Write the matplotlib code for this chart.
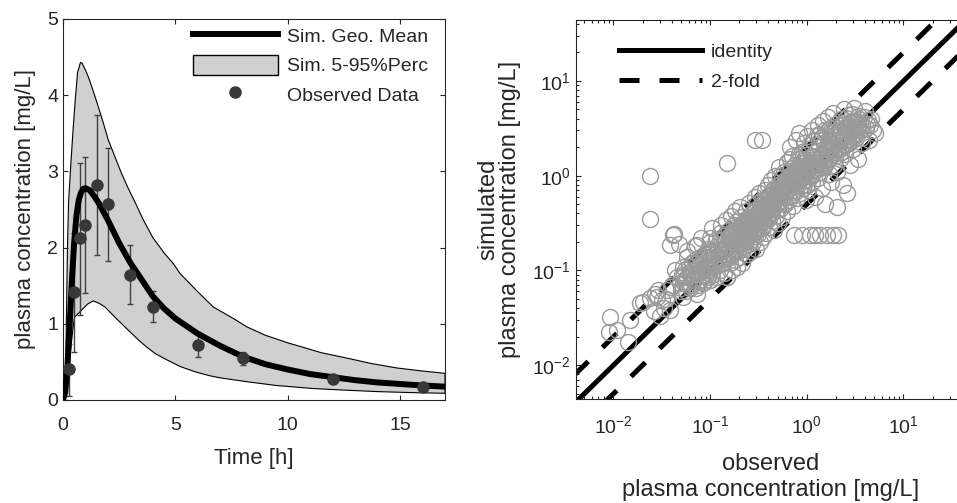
import numpy as np
import matplotlib
matplotlib.use('Agg')
import matplotlib.pyplot as plt
from matplotlib.patches import Patch
from matplotlib.lines import Line2D

# ---- left panel data: concentration-time profile ----
t_mean = [0, 0.1, 0.2, 0.3, 0.4, 0.5, 0.6, 0.7, 0.8, 0.9, 1.0, 1.2, 1.4, 1.6, 1.8,
          2.0, 2.25, 2.5, 2.75, 3.0, 3.5, 4.0, 4.5, 5.0, 5.5, 6.0, 7.0, 8.0, 9.0,
          10.0, 11.0, 12.0, 13.0, 14.0, 15.0, 16.0, 17.0]
c_mean = [0, 0.1, 0.45, 1.0, 1.58, 2.07, 2.42, 2.62, 2.72, 2.77, 2.78, 2.75, 2.67,
          2.58, 2.47, 2.36, 2.21, 2.06, 1.93, 1.8, 1.58, 1.36, 1.2, 1.07, 0.97,
          0.87, 0.71, 0.57, 0.47, 0.4, 0.34, 0.3, 0.26, 0.23, 0.21, 0.19, 0.175]

t_p95 = [0.1, 0.15, 0.2, 0.25, 0.35, 0.45, 0.55, 0.65, 0.78, 0.85, 1.0, 1.13, 1.35,
         1.57, 1.8, 2.02, 2.3, 2.61, 2.9, 3.2, 3.58, 4.0, 4.5, 4.91, 5.21, 6.0,
         6.69, 7.58, 8.18, 9.0, 10.0, 10.7, 11.5, 12.63, 13.7, 14.86, 16.0, 17.0]
c_p95 = [0.0, 1.0, 2.0, 2.6, 3.1, 3.55, 3.95, 4.3, 4.43, 4.42, 4.33, 4.24, 4.05,
         3.85, 3.63, 3.41, 3.2, 2.97, 2.78, 2.6, 2.36, 2.13, 1.93, 1.79, 1.66,
         1.42, 1.22, 1.07, 0.96, 0.85, 0.75, 0.69, 0.62, 0.55, 0.48, 0.42, 0.38, 0.35]

t_p05 = [0.08, 0.2, 0.31, 0.45, 0.52, 0.7, 0.9, 1.1, 1.35, 1.6, 1.87, 2.2, 2.61,
         3.0, 3.35, 3.7, 4.1, 4.6, 5.21, 5.88, 6.5, 7.0, 8.18, 9.5, 11.15, 12.5,
         14.0, 15.5, 17.0]
c_p05 = [0.0, 0.25, 0.57, 0.95, 1.09, 1.14, 1.2, 1.26, 1.3, 1.27, 1.22, 1.12, 1.0,
         0.89, 0.79, 0.7, 0.61, 0.53, 0.44, 0.37, 0.32, 0.29, 0.24, 0.19, 0.15,
         0.13, 0.11, 0.097, 0.088]

t_obs = [0.25, 0.5, 0.75, 1.0, 1.5, 2.0, 3.0, 4.0, 6.0, 8.0, 12.0, 16.0]
c_obs = [0.41, 1.42, 2.12, 2.30, 2.82, 2.57, 1.64, 1.22, 0.72, 0.55, 0.28, 0.175]
c_obs_lo = [0.05, 0.63, 1.12, 1.41, 1.90, 1.83, 1.26, 1.02, 0.57, 0.46, 0.26, 0.165]
c_obs_hi = [0.74, 2.19, 3.11, 3.19, 3.74, 3.31, 2.03, 1.43, 0.89, 0.63, 0.30, 0.185]

# ---- right panel data: observed vs simulated ----
obs = [0.0089, 0.0093, 0.0108, 0.0143, 0.0149, 0.019, 0.0204, 0.024, 0.026, 0.027,
       0.028, 0.029, 0.03, 0.032, 0.033, 0.035, 0.036, 0.038, 0.039, 0.049,
       0.053, 0.062, 0.073, 0.085, 0.1, 0.15,
       0.04, 0.042, 0.045, 0.048, 0.05, 0.052, 0.055, 0.058, 0.06, 0.062,
       0.065, 0.068, 0.07, 0.072, 0.075, 0.078, 0.08, 0.082, 0.085, 0.088,
       0.09, 0.092, 0.095, 0.098, 0.1, 0.043, 0.053, 0.057, 0.063, 0.067,
       0.073, 0.077, 0.083, 0.087, 0.093, 0.097,
       0.10, 0.10, 0.105, 0.105, 0.11, 0.11, 0.115, 0.115, 0.12, 0.12,
       0.125, 0.125, 0.13, 0.13, 0.135, 0.135, 0.14, 0.14, 0.145, 0.145,
       0.15, 0.15, 0.155, 0.155, 0.16, 0.16, 0.165, 0.165, 0.17, 0.17,
       0.175, 0.175, 0.18, 0.18, 0.185, 0.185, 0.19, 0.19, 0.195, 0.195,
       0.2, 0.2, 0.205, 0.21, 0.21, 0.215, 0.22, 0.22, 0.225, 0.23,
       0.235, 0.24, 0.24, 0.245, 0.25, 0.25, 0.255, 0.26, 0.265, 0.27,
       0.275, 0.28, 0.285, 0.29, 0.29, 0.295, 0.3, 0.3, 0.3, 0.305,
       0.31, 0.32, 0.32, 0.33, 0.33, 0.34, 0.34, 0.35, 0.35, 0.36,
       0.36, 0.37, 0.37, 0.38, 0.38, 0.39, 0.4, 0.4, 0.41, 0.41,
       0.42, 0.43, 0.43, 0.44, 0.45, 0.45, 0.46, 0.47, 0.47, 0.48,
       0.49, 0.5, 0.5, 0.51, 0.52, 0.53, 0.54, 0.55, 0.56, 0.57,
       0.58, 0.59, 0.6, 0.61, 0.62, 0.63, 0.64, 0.65, 0.66, 0.67,
       0.68, 0.69, 0.7, 0.71, 0.72, 0.73, 0.74, 0.75, 0.76, 0.77,
       0.78, 0.8, 0.81, 0.82, 0.84, 0.85, 0.86, 0.87, 0.89, 0.9,
       0.91, 0.92, 0.94, 0.95, 0.96, 0.97, 0.98, 0.99, 1.0, 1.0,
       1.02, 1.04, 1.06, 1.08, 1.08, 1.1, 1.12, 1.14, 1.16, 1.18,
       1.2, 1.22, 1.22, 1.24, 1.26, 1.28, 1.3, 1.32, 1.34, 1.36,
       1.37, 1.38, 1.4, 1.42, 1.45, 1.48, 1.5, 1.52, 1.55, 1.58,
       1.61, 1.6, 1.63, 1.66, 1.7, 1.72, 1.75, 1.78, 1.8, 1.84,
       1.87, 1.88, 1.9, 1.93, 1.96, 2.0, 2.04, 2.05, 2.1, 2.12,
       2.15, 2.2, 2.25, 2.3, 2.35, 2.4, 2.45, 2.5, 2.55, 2.6,
       2.65, 2.7, 2.8, 2.85, 2.9, 3.0, 3.1, 3.2, 3.3, 3.4,
       3.5, 3.55, 3.7, 3.8, 4.0, 4.2, 4.4, 4.6, 4.8, 5.1,
       0.0236, 0.0236, 0.149, 0.29, 0.34, 0.041, 0.0385, 0.073, 0.1,
       0.05, 0.051, 0.053, 0.055, 0.056, 0.058, 0.06, 0.061, 0.063, 0.065,
       0.066, 0.068, 0.07, 0.071, 0.074, 0.076, 0.078, 0.079, 0.081, 0.083,
       0.084, 0.086, 0.088, 0.089, 0.091, 0.093, 0.094, 0.096, 0.098, 0.099,
       0.102, 0.107, 0.112, 0.117, 0.122, 0.127, 0.132, 0.137, 0.142, 0.147,
       0.152, 0.157, 0.162, 0.167, 0.172, 0.177, 0.182, 0.187, 0.192, 0.197,
       0.202, 0.208, 0.213, 0.218, 0.223, 0.228, 0.233, 0.238, 0.243, 0.248,
       0.253, 0.258, 0.263, 0.268, 0.273, 0.278, 0.283, 0.288, 0.293, 0.298,
       0.11, 0.13, 0.15, 0.17, 0.19, 0.21, 0.23, 0.25, 0.27, 0.29,
       0.31, 0.32, 0.33, 0.34, 0.35, 0.36, 0.37, 0.38, 0.39, 0.4,
       0.41, 0.42, 0.43, 0.44, 0.45, 0.46, 0.47, 0.48, 0.49, 0.5,
       0.52, 0.54, 0.56, 0.58, 0.6, 0.62, 0.64, 0.66, 0.68, 0.7,
       0.72, 0.74, 0.76, 0.78, 0.8, 0.82, 0.84, 0.86, 0.88, 0.9,
       0.92, 0.94, 0.96, 0.98, 0.35, 0.4, 0.45, 0.5, 0.55, 0.6,
       0.65, 0.7, 0.75, 0.8, 0.85, 0.9, 0.95, 0.53, 0.67, 0.83,
       1.01, 1.05, 1.09, 1.13, 1.17, 1.21, 1.25, 1.29, 1.33, 1.37,
       1.41, 1.46, 1.51, 1.56, 1.61, 1.66, 1.71, 1.76, 1.81, 1.86,
       1.92, 1.98, 2.04, 2.1, 2.16, 2.22, 2.28, 2.34, 2.4, 2.47,
       2.54, 2.61, 2.68, 2.75, 2.82, 2.9, 2.98, 3.06, 3.15, 3.25,
       3.35, 3.45, 3.6, 3.75, 3.9, 4.1, 4.3, 4.5, 1.15, 1.35,
       1.55, 1.75, 1.95, 2.15, 2.35, 2.55, 2.75, 2.95, 3.3, 3.65,
       0.16, 0.18, 0.2, 0.22, 0.24, 0.26, 0.28, 0.3, 0.33, 0.36,
       0.39, 0.42, 0.46, 0.5, 0.54, 0.58, 0.62, 0.66, 0.71, 0.76,
       0.81, 0.87, 0.93, 1.0, 1.07, 1.14, 1.22, 1.3, 1.39, 1.48,
       1.58, 1.69, 1.8, 1.92, 2.05, 2.2, 2.35, 2.5, 2.7, 2.9]
sim = [0.0225, 0.032, 0.0236, 0.0177, 0.0298, 0.045, 0.047, 0.051, 0.037, 0.057,
       0.052, 0.062, 0.033, 0.049, 0.04, 0.05, 0.062, 0.038, 0.067, 0.073,
       0.053, 0.094, 0.057, 0.073, 0.079, 0.086,
       0.07, 0.24, 0.085, 0.19, 0.06, 0.11, 0.075, 0.14, 0.095, 0.065,
       0.12, 0.08, 0.18, 0.1, 0.07, 0.13, 0.22, 0.09, 0.073, 0.15,
       0.11, 0.085, 0.17, 0.12, 0.079, 0.1, 0.085, 0.16, 0.07, 0.1,
       0.12, 0.095, 0.105, 0.14, 0.1, 0.16,
       0.13, 0.2, 0.09, 0.28, 0.15, 0.11, 0.21, 0.085, 0.17, 0.13,
       0.25, 0.1, 0.19, 0.3, 0.12, 0.15, 0.23, 0.095, 0.18, 0.34,
       0.086, 0.14, 0.21, 0.27, 0.12, 0.17, 0.38, 0.23, 0.1, 0.15,
       0.3, 0.2, 0.13, 0.42, 0.18, 0.25, 0.11, 0.33, 0.16, 0.22,
       0.28, 0.14, 0.47, 0.19, 0.37, 0.12, 0.25, 0.17, 0.31, 0.21,
       0.42, 0.15, 0.27, 0.35, 0.19, 0.52, 0.23, 0.3, 0.16, 0.4,
       0.26, 0.2, 0.34, 0.6, 0.23, 0.45, 0.17, 0.29, 0.38, 0.52,
       0.24, 0.33, 0.65, 0.2, 0.43, 0.28, 0.55, 0.37, 0.227, 0.48,
       0.3, 0.7, 0.41, 0.25, 0.57, 0.34, 0.46, 0.8, 0.29, 0.62,
       0.39, 0.52, 0.9, 0.33, 0.7, 0.44, 0.27, 0.6, 1.0, 0.38,
       0.5, 0.8, 0.32, 0.66, 1.25, 0.45, 0.56, 0.95, 0.37, 0.75,
       1.1, 0.5, 0.62, 0.85, 1.4, 0.42, 0.72, 1.0, 0.55, 2.0,
       1.2, 0.63, 0.85, 1.6, 0.48, 0.237, 0.95, 1.3, 0.7, 2.4,
       1.1, 0.58, 0.8, 1.5, 2.8, 1.0, 0.65, 1.25, 0.237, 1.8,
       0.75, 1.1, 2.2, 0.9, 1.4, 0.55, 1.65, 1.05, 0.8, 2.6,
       1.2, 0.7, 1.9, 0.237, 1.0, 1.45, 3.0, 0.85, 1.6, 2.3,
       1.15, 0.237, 0.6, 1.8, 2.7, 1.3, 0.95, 3.4, 2.0, 1.5,
       0.237, 1.1, 2.5, 0.75, 1.7, 3.8, 1.25, 2.2, 0.5, 2.9,
       0.237, 1.4, 1.9, 4.2, 1.05, 2.4, 3.2, 1.6, 0.85, 2.1,
       4.6, 0.237, 1.3, 2.7, 1.8, 3.5, 0.47, 1.1, 2.3, 0.237,
       3.0, 1.5, 4.0, 2.0, 0.8, 2.6, 5.0, 1.7, 3.3, 0.65,
       2.2, 4.4, 1.3, 2.9, 3.8, 1.9, 5.2, 2.5, 3.3, 1.5,
       4.3, 3.6, 2.2, 2.9, 4.8, 3.5, 2.4, 4.0, 3.0, 2.8,
       1.0, 0.35, 1.35, 2.38, 2.38, 0.237, 0.185, 0.185, 0.22,
       0.065, 0.09, 0.075, 0.1, 0.06, 0.085, 0.11, 0.07, 0.09, 0.12,
       0.08, 0.1, 0.13, 0.065, 0.095, 0.115, 0.08, 0.14, 0.1, 0.09,
       0.12, 0.075, 0.105, 0.15, 0.09, 0.13, 0.11, 0.085, 0.14, 0.1,
       0.11, 0.16, 0.12, 0.18, 0.14, 0.21, 0.13, 0.17, 0.2, 0.15,
       0.18, 0.23, 0.14, 0.2, 0.26, 0.17, 0.22, 0.29, 0.19, 0.24,
       0.2, 0.27, 0.23, 0.32, 0.18, 0.26, 0.35, 0.22, 0.29, 0.24,
       0.33, 0.27, 0.21, 0.37, 0.3, 0.25, 0.41, 0.28, 0.33, 0.26,
       0.13, 0.16, 0.19, 0.24, 0.21, 0.3, 0.28, 0.36, 0.32, 0.35,
       0.36, 0.42, 0.31, 0.47, 0.4, 0.55, 0.44, 0.5, 0.38, 0.6,
       0.52, 0.45, 0.66, 0.55, 0.5, 0.72, 0.58, 0.64, 0.43, 0.7,
       0.6, 0.82, 0.66, 0.75, 0.9, 0.7, 0.98, 0.8, 0.88, 1.05,
       0.78, 0.95, 1.15, 0.85, 1.0, 1.25, 0.92, 1.1, 1.35, 1.0,
       1.2, 1.45, 1.05, 1.3, 0.5, 0.55, 0.62, 0.58, 0.72, 0.8,
       0.75, 0.92, 0.85, 1.15, 1.05, 0.95, 1.25, 1.0, 1.5, 1.7,
       1.1, 1.4, 1.25, 1.6, 1.15, 1.8, 1.35, 1.5, 2.0, 1.2,
       1.65, 1.45, 2.2, 1.3, 1.75, 2.4, 1.55, 1.9, 2.6, 1.7,
       2.1, 1.6, 2.8, 1.95, 2.3, 3.0, 1.8, 2.5, 2.1, 3.2,
       2.4, 2.7, 3.4, 2.2, 2.9, 3.6, 2.6, 3.1, 3.8, 2.8,
       3.3, 4.0, 3.0, 3.5, 4.2, 3.2, 3.9, 3.4, 2.3, 2.7,
       3.0, 2.9, 3.3, 2.6, 3.6, 4.1, 3.1, 4.5, 3.7, 2.5,
       0.2, 0.16, 0.25, 0.2, 0.3, 0.24, 0.35, 0.27, 0.4, 0.33,
       0.48, 0.38, 0.55, 0.45, 0.62, 0.52, 0.7, 0.6, 0.8, 0.68,
       0.95, 0.78, 1.1, 0.9, 1.25, 1.05, 1.4, 1.2, 1.6, 1.35,
       1.8, 1.5, 2.0, 1.7, 2.3, 1.9, 2.6, 2.1, 2.9, 2.4]

ref_range = [1e-3, 1e2]
fold = 2.0

# ---- style ----
plt.rcParams['font.family'] = ['Liberation Sans', 'DejaVu Sans']
plt.rcParams['font.size'] = 14
txt = '#262626'
plt.rcParams['text.color'] = txt
plt.rcParams['axes.labelcolor'] = txt
plt.rcParams['xtick.color'] = txt
plt.rcParams['ytick.color'] = txt
plt.rcParams['axes.edgecolor'] = txt

fig = plt.figure(figsize=(9.57, 5.03), dpi=100)

# ---- left panel ----
ax1 = fig.add_axes([0.0658, 0.2048, 0.3992, 0.7575])
band_x = np.concatenate([t_p95, t_p05[::-1]])
band_y = np.concatenate([c_p95, c_p05[::-1]])
ax1.fill(band_x, band_y, facecolor='#d0d0d0', edgecolor='black', linewidth=0.8, zorder=1)
ax1.errorbar(t_obs, c_obs,
             yerr=[np.array(c_obs) - np.array(c_obs_lo), np.array(c_obs_hi) - np.array(c_obs)],
             fmt='none', ecolor='#404040', elinewidth=1.0, capsize=2.5, capthick=1.0, zorder=2)
ax1.plot(t_mean, c_mean, color='black', linewidth=4.3, zorder=3)
ax1.plot(t_obs, c_obs, 'o', color='#383838', markersize=8, zorder=4)

ax1.set_xlim(0, 17)
ax1.set_ylim(0, 5)
ax1.set_xticks([0, 5, 10, 15])
ax1.set_yticks([0, 1, 2, 3, 4, 5])
ax1.tick_params(direction='in', top=True, right=True, length=3.6, width=0.8, labelsize=14)
ax1.tick_params(axis='x', pad=12)
ax1.set_xlabel('Time [h]', fontsize=16, labelpad=10)
ax1.set_ylabel('plasma concentration [mg/L]', fontsize=16, labelpad=8)

handles1 = [Line2D([], [], color='black', linewidth=4.3),
            Patch(facecolor='#d0d0d0', edgecolor='black', linewidth=1.0),
            Line2D([], [], marker='o', linestyle='none', color='#383838', markersize=8)]
labels1 = ['Sim. Geo. Mean', 'Sim. 5-95%Perc', 'Observed Data']
ax1.legend(handles1, labels1, loc='upper left', bbox_to_anchor=(0.314, 1.008),
           frameon=False, borderpad=0, handlelength=4.4, handleheight=1.2,
           handletextpad=0.45, labelspacing=0.45, fontsize=14)

# ---- right panel ----
ax2 = fig.add_axes([0.6019, 0.2068, 0.4072, 0.7535])
ax2.set_xscale('log')
ax2.set_yscale('log')
rx = np.array(ref_range)
ax2.plot(rx, rx, color='black', linewidth=3.6, label='identity', zorder=1)
ax2.plot(rx, rx * fold, color='black', linewidth=3.6, linestyle=(0, (4, 4)),
         label='2-fold', zorder=1)
ax2.plot(rx, rx / fold, color='black', linewidth=3.6, linestyle=(0, (4, 4)), zorder=1)
ax2.plot(obs, sim, 'o', markerfacecolor='none', markeredgecolor='#9a9a9a',
         markersize=11.5, markeredgewidth=1.0, zorder=2)

ax2.set_xlim(0.0041, 44)
ax2.set_ylim(0.0044, 44)
ax2.tick_params(which='both', direction='in', top=True, right=True, width=0.8)
ax2.tick_params(which='major', length=3.6, labelsize=14)
ax2.tick_params(which='minor', length=2.2)
ax2.tick_params(axis='x', which='major', pad=12)
ax2.set_xlabel('observed\nplasma concentration [mg/L]', fontsize=17, labelpad=11,
               linespacing=1.25)
ax2.set_ylabel('simulated\nplasma concentration [mg/L]', fontsize=17, labelpad=8,
               linespacing=1.0)
ax2.legend(loc='upper left', bbox_to_anchor=(0.085, 0.965), frameon=False, borderpad=0,
           handlelength=4.3, handletextpad=0.45, labelspacing=0.66, fontsize=14)

fig.savefig('out.png', dpi=100)
